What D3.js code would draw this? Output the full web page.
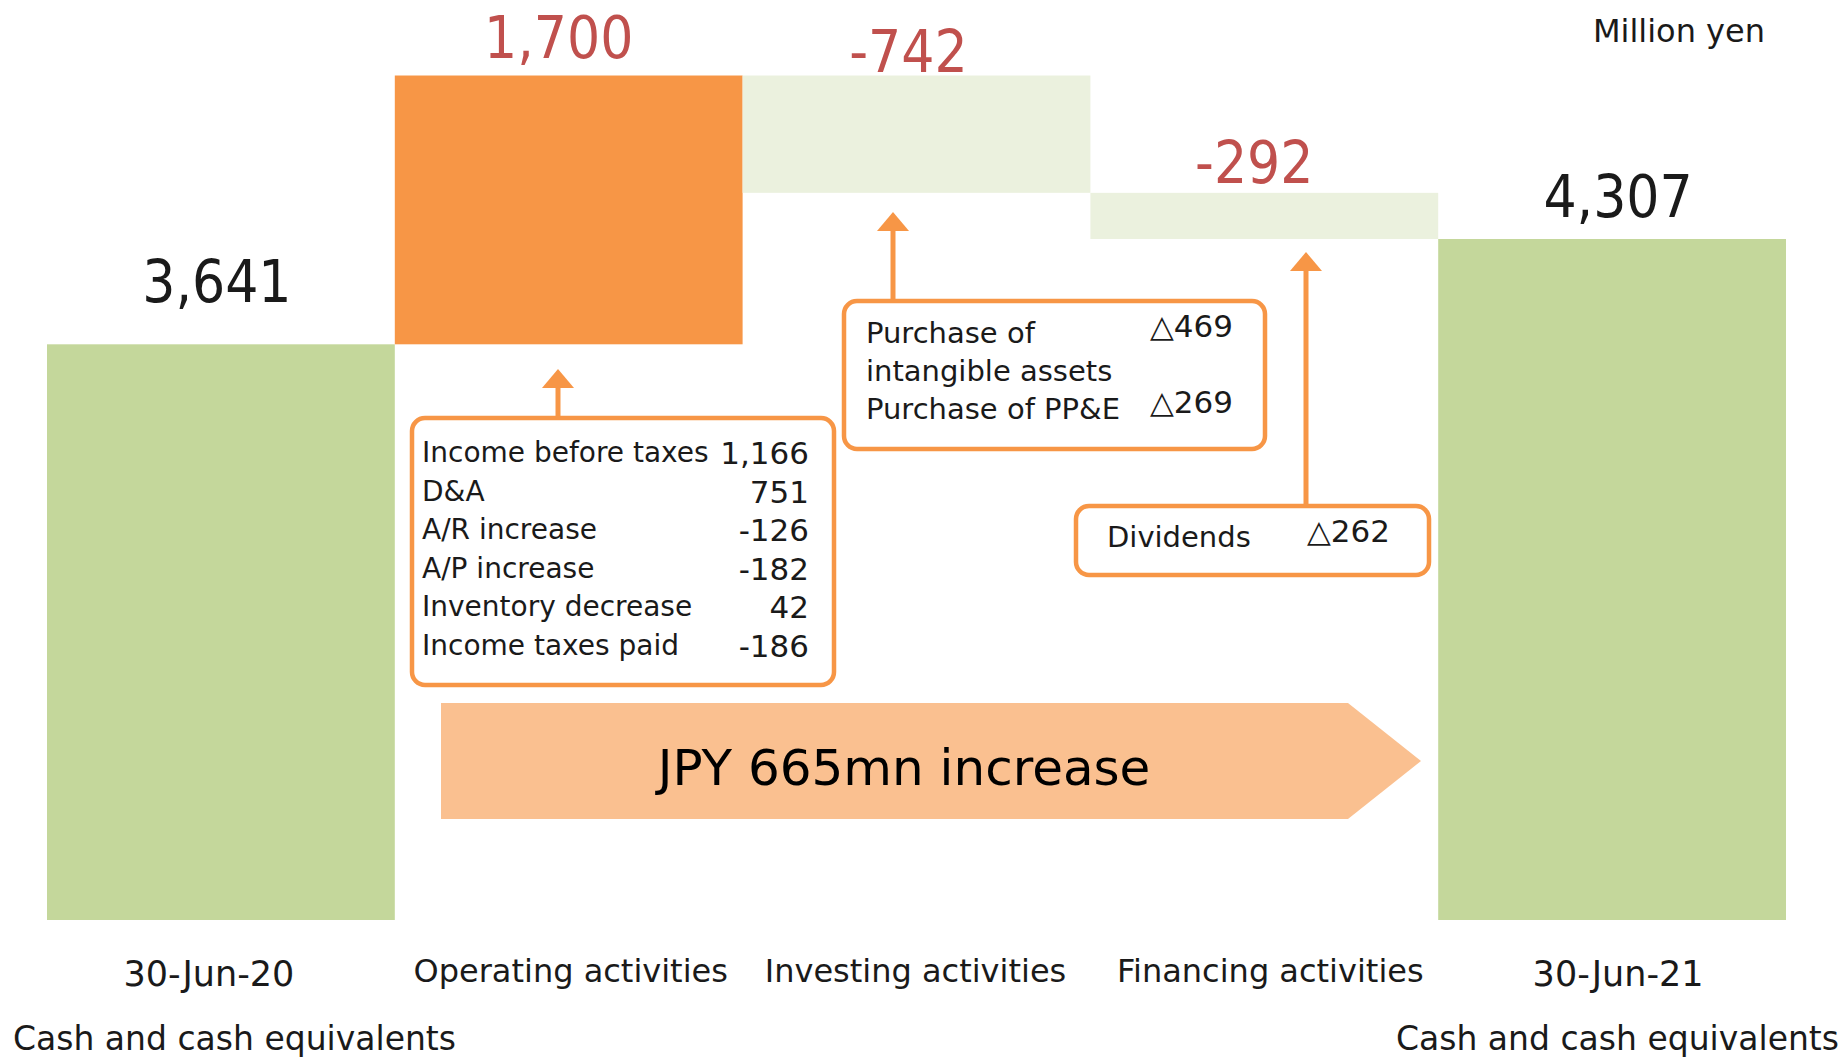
<!DOCTYPE html>
<html>
<head>
<meta charset="utf-8">
<script src="https://cdn.jsdelivr.net/npm/d3@7"></script>
<style>
  html, body { margin: 0; padding: 0; background: #fff; }
  svg { display: block; font-family: "DejaVu Sans", Verdana, sans-serif; }
</style>
</head>
<body>
<div id="chart"></div>
<script>
// Data
const categories = ['30-Jun-20', 'Operating activities', 'Investing activities', 'Financing activities', '30-Jun-21'];
const values = [3641, 1700, -742, -292, 4307];
const barKinds = ['total', 'change', 'change', 'change', 'total'];
const valueLabels = ['3,641', '1,700', '-742', '-292', '4,307'];
const subLabels = ['Cash and cash equivalents', '', '', '', 'Cash and cash equivalents'];
const unitLabel = 'Million yen';
const summaryLabel = 'JPY 665mn increase';

const operatingItems = ['Income before taxes', 'D&A', 'A/R increase', 'A/P increase', 'Inventory decrease', 'Income taxes paid'];
const operatingValues = ['1,166', '751', '-126', '-182', '42', '-186'];
const investingItems = ['Purchase of', 'intangible assets', 'Purchase of PP&E'];
const investingValues = ['△469', '', '△269'];
const financingItems = ['Dividends'];
const financingValues = ['△262'];

// Layout
const W = 1843, H = 1058;
const colors = {
    total: '#C4D79B',
    up: '#F79646',
    down: '#EBF1DE',
    red: '#C0504D',
    text: '#1a1a1a',
    arrow: '#FAC090',
    box: '#F79646'
};
const labelNudge = [[-4, -42], [-10, -18], [-8, -4], [-10, -10], [6, -22]];
const catNudge = [[-12, 66], [2, 62], [-1, 62], [6, 62], [6, 66]];

const svg = d3.select('#chart').append('svg')
    .attr('width', W)
    .attr('height', H);

const x = d3.scaleBand()
    .domain(categories)
    .range([47, 1786])
    .padding(0);

const y = d3.scaleLinear()
    .domain([0, 4307])
    .range([920, 239]);

// waterfall spans
let running = 0;
const bars = categories.map((c, i) => {
    let start, end;
    if (barKinds[i] === 'total') {
        start = 0; end = values[i]; running = values[i];
    } else {
        start = running; end = running + values[i]; running = end;
    }
    return { cat: c, i, start, end, kind: barKinds[i], v: values[i] };
});

svg.selectAll('.bar')
    .data(bars)
    .enter()
    .append('rect')
    .attr('class', 'bar')
    .attr('x', d => x(d.cat))
    .attr('width', x.bandwidth())
    .attr('y', d => y(Math.max(d.start, d.end)))
    .attr('height', d => Math.abs(y(d.start) - y(d.end)))
    .attr('fill', d => d.kind === 'total' ? colors.total : (d.v >= 0 ? colors.up : colors.down));

// value labels
svg.selectAll('.value-label')
    .data(bars)
    .enter()
    .append('text')
    .attr('class', 'value-label')
    .attr('x', d => x(d.cat) + x.bandwidth() / 2 + labelNudge[d.i][0])
    .attr('y', d => y(Math.max(d.start, d.end)) + labelNudge[d.i][1])
    .attr('text-anchor', 'middle')
    .style('font-family', '"DejaVu Sans Condensed", "DejaVu Sans", sans-serif')
    .style('font-stretch', 'condensed')
    .style('font-size', '58px')
    .attr('fill', d => d.kind === 'total' ? colors.text : colors.red)
    .text((d, i) => valueLabels[i]);

// category labels
svg.selectAll('.cat-label')
    .data(bars)
    .enter()
    .append('text')
    .attr('class', 'cat-label')
    .attr('x', d => x(d.cat) + x.bandwidth() / 2 + catNudge[d.i][0])
    .attr('y', d => y(0) + catNudge[d.i][1])
    .attr('text-anchor', 'middle')
    .style('font-size', d => d.kind === 'total' ? '35px' : '32px')
    .attr('fill', colors.text)
    .text(d => d.cat);

// sub labels under the totals
svg.append('text')
    .attr('x', 13).attr('y', 1050)
    .style('font-size', '33px')
    .attr('fill', colors.text)
    .text(subLabels[0]);
svg.append('text')
    .attr('x', 1839).attr('y', 1050)
    .attr('text-anchor', 'end')
    .style('font-size', '33px')
    .attr('fill', colors.text)
    .text(subLabels[4]);

// unit
svg.append('text')
    .attr('x', 1765).attr('y', 42)
    .attr('text-anchor', 'end')
    .style('font-size', '32px')
    .attr('fill', colors.text)
    .text(unitLabel);

// big summary arrow
const ax0 = 441, ax1 = 1348, axTip = 1421, ay0 = 703, ay1 = 819;
svg.append('path')
    .attr('d', `M${ax0},${ay0}L${ax1},${ay0}L${axTip},${(ay0 + ay1) / 2}L${ax1},${ay1}L${ax0},${ay1}Z`)
    .attr('fill', colors.arrow);
svg.append('text')
    .attr('x', 904).attr('y', 785)
    .attr('text-anchor', 'middle')
    .style('font-size', '50px')
    .attr('fill', '#000')
    .text(summaryLabel);

// callout boxes with arrows pointing at bars
function callout(box, items, vals, opts) {
    const g = svg.append('g');
    g.append('line')
        .attr('x1', opts.ax).attr('x2', opts.ax)
        .attr('y1', box.y).attr('y2', opts.tip + 16)
        .attr('stroke', colors.box)
        .attr('stroke-width', 5);
    g.append('path')
        .attr('d', `M${opts.ax},${opts.tip}L${opts.ax + 16},${opts.tip + 19}L${opts.ax - 16},${opts.tip + 19}Z`)
        .attr('fill', colors.box);
    g.append('rect')
        .attr('x', box.x).attr('y', box.y)
        .attr('width', box.w).attr('height', box.h)
        .attr('rx', 13).attr('ry', 13)
        .attr('fill', '#fff')
        .attr('stroke', colors.box)
        .attr('stroke-width', 4.5);
    items.forEach((t, i) => {
        g.append('text')
            .attr('x', opts.tx).attr('y', opts.ty + i * opts.lh)
            .style('font-size', opts.fs + 'px')
            .attr('fill', colors.text)
            .text(t);
        if (vals[i]) {
            g.append('text')
                .attr('x', opts.vx).attr('y', opts.ty + i * opts.lh + (opts.vdy || 0))
                .attr('text-anchor', 'end')
                .style('font-size', opts.vfs + 'px')
                .attr('fill', colors.text)
                .text(vals[i]);
        }
    });
}

callout({ x: 412, y: 418, w: 422, h: 267 }, operatingItems, operatingValues,
    { ax: 558, tip: 369, tx: 422, ty: 462, lh: 38.6, vx: 809, fs: 28, vfs: 31, vdy: 2 });
callout({ x: 844, y: 301, w: 421, h: 148 }, investingItems, investingValues,
    { ax: 893, tip: 212, tx: 866, ty: 343, lh: 38, vx: 1233, fs: 29, vfs: 31, vdy: -6 });
callout({ x: 1076, y: 506, w: 353, h: 69 }, financingItems, financingValues,
    { ax: 1306, tip: 252, tx: 1107, ty: 547, lh: 38, vx: 1390, fs: 29, vfs: 31, vdy: -5 });
</script>
</body>
</html>
